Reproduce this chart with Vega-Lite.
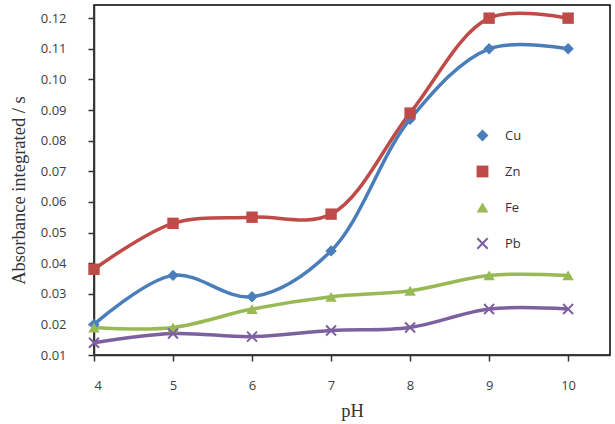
{
  "$schema": "https://vega.github.io/schema/vega-lite/v6.json",
  "width": 516,
  "height": 350,
  "autosize": {"type": "none"},
  "padding": {"left": 94, "top": 5, "right": 5, "bottom": 69},
  "background": "white",
  "config": {
    "view": {"stroke": "#000000", "strokeWidth": 1.5},
    "axis": {
      "grid": false,
      "domainColor": "#333333",
      "domainWidth": 1.5,
      "tickColor": "#333333",
      "tickWidth": 1.5,
      "tickSize": 6,
      "labelFont": "Open Sans",
      "labelFontSize": 13,
      "labelColor": "#404040",
      "titleFont": "Liberation Serif",
      "titleFontWeight": "normal",
      "titleFontSize": 18.5,
      "titleColor": "#333333"
    }
  },
  "data": {
    "values": [
      {"pH": 4, "metal": "Cu", "abs": 0.020},
      {"pH": 5, "metal": "Cu", "abs": 0.036},
      {"pH": 6, "metal": "Cu", "abs": 0.029},
      {"pH": 7, "metal": "Cu", "abs": 0.044},
      {"pH": 8, "metal": "Cu", "abs": 0.087},
      {"pH": 9, "metal": "Cu", "abs": 0.110},
      {"pH": 10, "metal": "Cu", "abs": 0.110},
      {"pH": 4, "metal": "Zn", "abs": 0.038},
      {"pH": 5, "metal": "Zn", "abs": 0.053},
      {"pH": 6, "metal": "Zn", "abs": 0.055},
      {"pH": 7, "metal": "Zn", "abs": 0.056},
      {"pH": 8, "metal": "Zn", "abs": 0.089},
      {"pH": 9, "metal": "Zn", "abs": 0.120},
      {"pH": 10, "metal": "Zn", "abs": 0.120},
      {"pH": 4, "metal": "Fe", "abs": 0.019},
      {"pH": 5, "metal": "Fe", "abs": 0.019},
      {"pH": 6, "metal": "Fe", "abs": 0.025},
      {"pH": 7, "metal": "Fe", "abs": 0.029},
      {"pH": 8, "metal": "Fe", "abs": 0.031},
      {"pH": 9, "metal": "Fe", "abs": 0.036},
      {"pH": 10, "metal": "Fe", "abs": 0.036},
      {"pH": 4, "metal": "Pb", "abs": 0.014},
      {"pH": 5, "metal": "Pb", "abs": 0.017},
      {"pH": 6, "metal": "Pb", "abs": 0.016},
      {"pH": 7, "metal": "Pb", "abs": 0.018},
      {"pH": 8, "metal": "Pb", "abs": 0.019},
      {"pH": 9, "metal": "Pb", "abs": 0.025},
      {"pH": 10, "metal": "Pb", "abs": 0.025}
    ]
  },
  "encoding": {
    "x": {
      "field": "pH",
      "type": "quantitative",
      "scale": {"domain": [4, 10.53], "nice": false, "zero": false},
      "axis": {"values": [4, 5, 6, 7, 8, 9, 10], "title": "pH", "labelPadding": 18, "titlePadding": 9}
    },
    "y": {
      "field": "abs",
      "type": "quantitative",
      "scale": {"domain": [0.01, 0.1243], "nice": false, "zero": false},
      "axis": {
        "values": [0.01, 0.02, 0.03, 0.04, 0.05, 0.06, 0.07, 0.08, 0.09, 0.10, 0.11, 0.12],
        "format": ".2f",
        "title": "Absorbance integrated / s",
        "labelPadding": 22,
        "titlePadding": 12,
        "titleY": 185
      }
    },
    "color": {
      "field": "metal",
      "type": "nominal",
      "sort": ["Cu", "Zn", "Fe", "Pb"],
      "scale": {"domain": ["Cu", "Zn", "Fe", "Pb"], "range": ["#4a7ebb", "#be4b48", "#98b954", "#7d60a0"]},
      "legend": {
        "title": null,
        "orient": "none",
        "legendX": 382,
        "legendY": 124,
        "rowPadding": 22,
        "labelFont": "Open Sans",
        "labelFontSize": 13,
        "labelColor": "#333333",
        "symbolSize": 140,
        "symbolStrokeWidth": 0,
        "labelOffset": 16
      }
    }
  },
  "layer": [
    {
      "mark": {"type": "line", "interpolate": "catmull-rom", "strokeWidth": 3.5}
    },
    {
      "mark": {"type": "point", "filled": true, "size": 130, "opacity": 1},
      "encoding": {
        "shape": {
          "field": "metal",
          "type": "nominal",
          "sort": ["Cu", "Zn", "Fe", "Pb"],
          "scale": {
            "domain": ["Cu", "Zn", "Fe", "Pb"],
            "range": ["diamond", "square", "triangle-up", "M-1,-0.75L-0.75,-1L0,-0.25L0.75,-1L1,-0.75L0.25,0L1,0.75L0.75,1L0,0.25L-0.75,1L-1,0.75L-0.25,0Z"]
          }
        }
      }
    }
  ]
}
